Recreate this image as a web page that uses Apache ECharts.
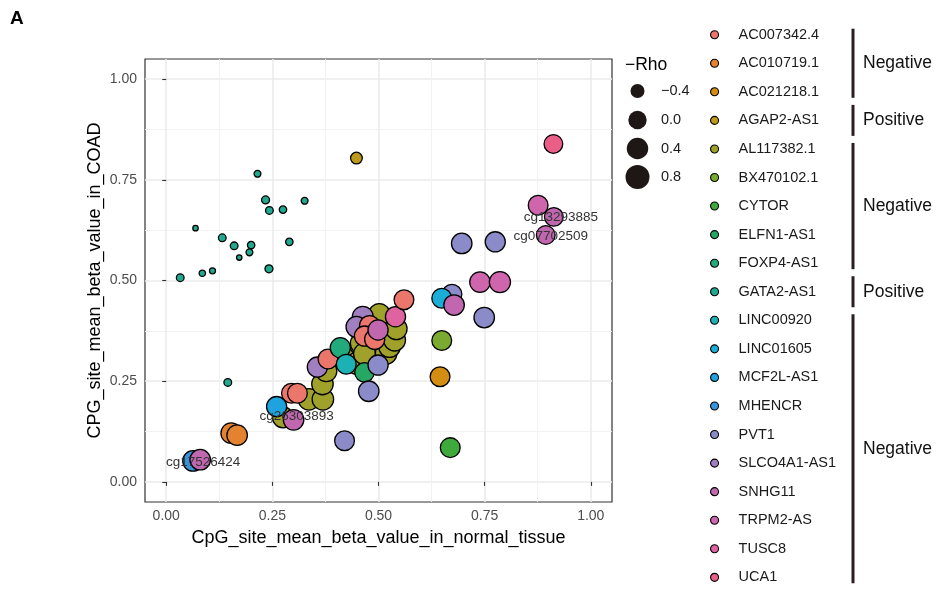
<!DOCTYPE html>
<html>
<head>
<meta charset="utf-8">
<script src="https://cdn.jsdelivr.net/npm/echarts@6/dist/echarts.min.js"></script>
<style>
  html, body { margin: 0; padding: 0; background: #fff; }
  #chart { width: 938px; height: 590px; }
</style>
</head>
<body>
<div id="chart"></div>
<script>
// genes in legend order
const genes = [
  'AC007342.4', 'AC010719.1', 'AC021218.1', 'AGAP2-AS1', 'AL117382.1',
  'BX470102.1', 'CYTOR', 'ELFN1-AS1', 'FOXP4-AS1', 'GATA2-AS1',
  'LINC00920', 'LINC01605', 'MCF2L-AS1', 'MHENCR', 'PVT1',
  'SLCO4A1-AS1', 'SNHG11', 'TRPM2-AS', 'TUSC8', 'UCA1'
]
// correlation direction groups: [label, first gene index, last gene index]
const groups = [
  ['Negative', 0, 2],
  ['Positive', 3, 3],
  ['Negative', 4, 8],
  ['Positive', 9, 9],
  ['Negative', 10, 19]
]

// one entry per CpG site
const pointGene = [
  9, 9, 9, 9, 9, 9, 9, 9, 9, 9, 9, 9, 9, 9, 9, 9, 9,
  3,
  4, 4, 4, 4, 4, 4, 4, 4, 4, 4, 4, 4, 4, 4,
  15, 15, 15,
  17, 17, 17,
  18,
  6,
  7,
  14, 14, 14, 14, 14, 14, 14,
  0, 0, 0, 0, 0, 0, 0,
  8,
  10,
  1, 1,
  2,
  5,
  11,
  12,
  13,
  16, 16, 16, 16, 16, 16,
  19
]
const normalBeta = [
  0.215, 0.234, 0.243, 0.275, 0.326, 0.069, 0.132, 0.160, 0.200, 0.196, 0.172, 0.290, 0.242, 0.085, 0.109, 0.033, 0.145,
  0.448,
  0.275, 0.336, 0.369, 0.368, 0.377, 0.416, 0.448, 0.459, 0.467, 0.502, 0.518, 0.526, 0.538, 0.542,
  0.356, 0.463, 0.448,
  0.876, 0.739, 0.786,
  0.540,
  0.669,
  0.467,
  0.420, 0.477, 0.499, 0.673, 0.749, 0.696, 0.775,
  0.295, 0.309, 0.381, 0.479, 0.467, 0.491, 0.560,
  0.410,
  0.424,
  0.153, 0.167,
  0.645,
  0.649,
  0.649,
  0.260,
  0.063,
  0.080, 0.300, 0.499, 0.678, 0.894, 0.913,
  0.912
]
const coadBeta = [
  0.765, 0.700, 0.674, 0.676, 0.698, 0.630, 0.606, 0.586, 0.588, 0.570, 0.557, 0.596, 0.529, 0.518, 0.524, 0.507, 0.247,
  0.804,
  0.160, 0.205, 0.205, 0.243, 0.275, 0.311, 0.294, 0.344, 0.318, 0.416, 0.319, 0.336, 0.352, 0.380,
  0.285, 0.410, 0.385,
  0.687, 0.496, 0.496,
  0.410,
  0.085,
  0.272,
  0.102, 0.225, 0.290, 0.466, 0.408, 0.592, 0.596,
  0.220, 0.220, 0.305, 0.388, 0.362, 0.354, 0.452,
  0.333,
  0.292,
  0.121, 0.116,
  0.261,
  0.351,
  0.456,
  0.187,
  0.052,
  0.055, 0.154, 0.377, 0.439, 0.613, 0.658,
  0.839
]
const negRho = [
  -0.65, -0.627, -0.634, -0.64, -0.65, -0.66, -0.634, -0.634, -0.64, -0.65, -0.66, -0.64, -0.627, -0.655, -0.658, -0.634, -0.634,
  -0.466,
  0.5, 0.6, 0.6, 0.6, 0.55, 0.6, 0.6, 0.6, 0.65, 0.6, 0.6, 0.65, 0.65, 0.6,
  0.4, 0.5, 0.5,
  0.35, 0.45, 0.55,
  0.4,
  0.35,
  0.3,
  0.35, 0.45, 0.4, 0.35, 0.45, 0.45, 0.4,
  0.35, 0.35, 0.35, 0.4, 0.4, 0.4, 0.35,
  0.4,
  0.35,
  0.45, 0.45,
  0.35,
  0.35,
  0.35,
  0.4,
  0.45,
  0.45, 0.45, 0.4, 0.45, 0.2, 0.2,
  0.2
]
const probeLabel = [
  '', '', '', '', '', '', '', '', '', '', '', '', '', '', '', '', '',
  '',
  '', '', '', '', '', '', '', '', '', '', '', '', '', '',
  '', '', '',
  '', '', '',
  '',
  '',
  '',
  '', '', '', '', '', '', '',
  '', '', '', '', '', '', '',
  '',
  '',
  '', '',
  '',
  '',
  '',
  '',
  '',
  'cg17526424', 'cg26303893', '', '', 'cg07702509', 'cg13293885',
  ''
]
const axisTicks = [0, 0.25, 0.5, 0.75, 1]
const minorTicks = [0.125, 0.375, 0.625, 0.875]
const rhoBreaks = [-0.4, 0.0, 0.4, 0.8]

// styling
const palette = [
  '#EB766C', '#E3822F', '#D38D12', '#BD9A1A', '#A0A12B',
  '#7BAA30', '#3FAA3C', '#26A865', '#22AA7D', '#1FA98E',
  '#1CB1B4', '#1AADD6', '#1EA3DF', '#3894D8', '#8A8BC8',
  '#A07FC0', '#C067B0', '#CF66AD', '#DF63A0', '#EA5F88'
]
const drawOrder = [9, 3, 4, 15, 17, 18, 6, 7, 14, 0, 8, 10, 1, 2, 5, 11, 12, 13, 16, 19]
const labelOffset = {
  cg17526424: [3, 3],
  cg26303893: [3, -4],
  cg13293885: [7, 0],
  cg07702509: [5, 1]
}
const FONT = '"Liberation Sans", Arial, Helvetica, sans-serif'
const RHO_MIN = -0.66
const RHO_MAX = 0.85

// ggplot-like area scale: diameter grows with sqrt of rescaled value
const sizeOf = v => 6.7 + 17.6 * Math.sqrt(Math.max(0, (v - RHO_MIN) / (RHO_MAX - RHO_MIN)))

const tickFmt = v => v.toFixed(2)

const series = drawOrder.map(g => {
  const data = []
  pointGene.forEach((pg, i) => {
    if (pg !== g) return
    const item = { value: [normalBeta[i], coadBeta[i], negRho[i]] }
    if (probeLabel[i]) {
      item.label = {
        show: true,
        formatter: probeLabel[i],
        position: 'inside',
        offset: labelOffset[probeLabel[i]],
        color: '#333',
        fontSize: 13.5,
        fontFamily: FONT
      }
    }
    data.push(item)
  })
  return {
    name: genes[g],
    type: 'scatter',
    data: data,
    symbol: 'circle',
    symbolSize: val => sizeOf(val[2]) - 1.3,
    itemStyle: { color: palette[g], borderColor: '#000', borderWidth: 1.3, opacity: 1 },
    emphasis: { disabled: true },
    animation: false
  }
})

// legend layout
const LEG_LEFT = 710
const LEG_CENTER0 = 34.7
const LEG_STEP = 28.56
const LEG_LINE = 16

const graphics = []
// size legend
graphics.push({
  type: 'text', left: 625, top: 56,
  style: { text: '\u2212Rho', fontSize: 17.5, fontFamily: FONT, fill: '#000' }
})
const sizeCenters = [91, 120, 148.5, 177]
rhoBreaks.forEach((v, i) => {
  graphics.push({
    type: 'circle',
    shape: { cx: 637.5, cy: sizeCenters[i], r: sizeOf(v) / 2 },
    style: { fill: '#1f1616' }
  })
  graphics.push({
    type: 'text', x: 661, y: sizeCenters[i],
    style: {
      text: v < 0 ? '\u2212' + Math.abs(v).toFixed(1) : v.toFixed(1),
      fontSize: 14.5, fontFamily: FONT, fill: '#1a1a1a', verticalAlign: 'middle'
    }
  })
})
// group brackets
groups.forEach(([name, a, b]) => {
  const ext = a === b ? 15.5 : 6
  const y1 = LEG_CENTER0 + a * LEG_STEP - ext
  const y2 = LEG_CENTER0 + b * LEG_STEP + ext
  graphics.push({
    type: 'line',
    shape: { x1: 853, y1: y1, x2: 853, y2: y2 },
    style: { stroke: '#2a1e1e', lineWidth: 3 }
  })
  graphics.push({
    type: 'text', x: 863, y: (y1 + y2) / 2,
    style: { text: name, fontSize: 17.5, fontFamily: FONT, fill: '#111', verticalAlign: 'middle' }
  })
})

const axisCommon = {
  type: 'value',
  min: -0.05,
  max: 1.05
}

const option = {
  backgroundColor: '#fff',
  animation: false,
  title: {
    text: 'A', left: 10, top: 9, padding: 0,
    textStyle: { fontSize: 19, fontWeight: 'bold', color: '#000', fontFamily: FONT }
  },
  grid: {
    left: 145, top: 59, width: 467, height: 443,
    show: true, borderColor: '#333', borderWidth: 1.2, backgroundColor: '#fff'
  },
  xAxis: [
    Object.assign({}, axisCommon, {
      position: 'bottom',
      name: 'CpG_site_mean_beta_value_in_normal_tissue',
      nameLocation: 'middle',
      nameGap: 27,
      nameTextStyle: { fontSize: 18, color: '#000', fontFamily: FONT },
      axisLine: { show: false },
      axisTick: { show: true, customValues: axisTicks, length: 4, lineStyle: { color: '#333', width: 1.1 } },
      axisLabel: { customValues: axisTicks, formatter: tickFmt, fontSize: 14, color: '#4d4d4d', margin: 7, fontFamily: FONT },
      splitLine: { show: true, lineStyle: { color: '#ebebeb', width: 1.6 } }
    }),
    Object.assign({}, axisCommon, {
      position: 'top',
      axisLine: { show: false },
      axisTick: { show: false, customValues: minorTicks },
      axisLabel: { show: false, customValues: minorTicks },
      splitLine: { show: true, lineStyle: { color: '#f0f0f0', width: 0.9 } }
    })
  ],
  yAxis: [
    Object.assign({}, axisCommon, {
      position: 'left',
      name: 'CPG_site_mean_beta_value_in_COAD',
      nameLocation: 'middle',
      nameGap: 41,
      nameTextStyle: { fontSize: 18, color: '#000', fontFamily: FONT },
      axisLine: { show: false },
      axisTick: { show: true, customValues: axisTicks, length: 4, lineStyle: { color: '#333', width: 1.1 } },
      axisLabel: { customValues: axisTicks, formatter: tickFmt, fontSize: 14, color: '#4d4d4d', margin: 8, fontFamily: FONT },
      splitLine: { show: true, lineStyle: { color: '#ebebeb', width: 1.6 } }
    }),
    Object.assign({}, axisCommon, {
      position: 'right',
      axisLine: { show: false },
      axisTick: { show: false, customValues: minorTicks },
      axisLabel: { show: false, customValues: minorTicks },
      splitLine: { show: true, lineStyle: { color: '#f0f0f0', width: 0.9 } }
    })
  ],
  legend: {
    orient: 'vertical',
    left: LEG_LEFT,
    top: LEG_CENTER0 - LEG_LINE / 2,
    height: 580,
    padding: 0,
    icon: 'circle',
    itemWidth: 8,
    itemHeight: 8,
    itemGap: LEG_STEP - LEG_LINE,
    selectedMode: false,
    data: genes,
    itemStyle: { borderColor: '#000', borderWidth: 1.1 },
    textStyle: { fontSize: 14.5, color: '#1a1a1a', lineHeight: LEG_LINE, padding: [0, 0, 0, 15], fontFamily: FONT }
  },
  graphic: graphics,
  series: series
}

const chart = echarts.init(document.getElementById('chart'), null, { renderer: 'canvas' })
chart.setOption(option)
</script>
</body>
</html>
